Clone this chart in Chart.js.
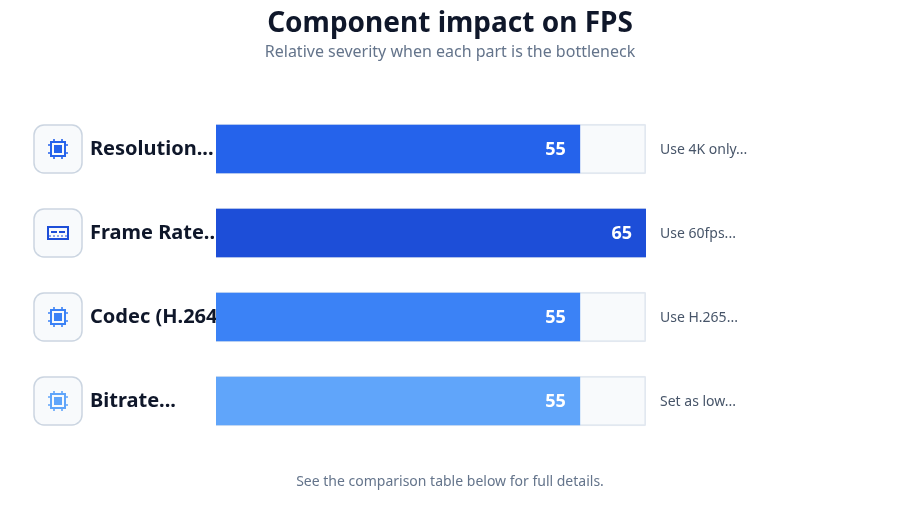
<!DOCTYPE html>
<html>
<head>
<meta charset="utf-8">
<style>
  html, body { margin: 0; padding: 0; background: #ffffff; }
  #wrap { position: relative; width: 900px; height: 506px; }
</style>
<script src="https://cdn.jsdelivr.net/npm/chart.js@4"></script>
</head>
<body>
<div id="wrap"><canvas id="impact" width="900" height="506"></canvas></div>
<script>
const chartTitle = 'Component impact on FPS';
const chartSubtitle = 'Relative severity when each part is the bottleneck';
const chartFootnote = 'See the comparison table below for full details.';
const categories = ['Resolution...', 'Frame Rate...', 'Codec (H.264', 'Bitrate...'];
const impactValues = [55, 65, 55, 55];
const trackValues = [65, 65, 65, 65];
const advice = ['Use 4K only...', 'Use 60fps...', 'Use H.265...', 'Set as low...'];
const barColors = ['#2563eb', '#1d4ed8', '#3b82f6', '#60a5fa'];
const iconKinds = ['chip', 'frame', 'chip', 'chip'];

const FONT = '"Noto Sans", sans-serif';

function roundedBox(ctx, x, y, w, h, r) {
  ctx.beginPath();
  ctx.roundRect(x, y, w, h, r);
}

function drawChip(ctx, cx, cy, color) {
  ctx.strokeStyle = color;
  ctx.fillStyle = color;
  ctx.lineWidth = 2;
  ctx.strokeRect(cx - 7, cy - 7, 14, 14);
  ctx.fillRect(cx - 4, cy - 4, 8, 8);
  ctx.lineWidth = 1.6;
  ctx.beginPath();
  [-4, 4].forEach(d => {
    ctx.moveTo(cx + d, cy - 10); ctx.lineTo(cx + d, cy - 7);
    ctx.moveTo(cx + d, cy + 7); ctx.lineTo(cx + d, cy + 10);
    ctx.moveTo(cx - 10, cy + d); ctx.lineTo(cx - 7, cy + d);
    ctx.moveTo(cx + 7, cy + d); ctx.lineTo(cx + 10, cy + d);
  });
  ctx.stroke();
}

function drawFrame(ctx, cx, cy, color) {
  ctx.strokeStyle = color;
  ctx.fillStyle = color;
  ctx.lineWidth = 2;
  ctx.strokeRect(cx - 10, cy - 6, 20, 12);
  ctx.fillRect(cx - 7, cy - 2, 6, 2);
  ctx.fillRect(cx + 1, cy - 2, 6, 2);
  ctx.lineWidth = 1;
  ctx.setLineDash([2, 2]);
  ctx.beginPath();
  ctx.moveTo(cx - 9, cy + 3);
  ctx.lineTo(cx + 9, cy + 3);
  ctx.stroke();
  ctx.setLineDash([]);
}

// Headline, row badges and category names sit behind the bars.
const backdrop = {
  id: 'backdrop',
  beforeDatasetsDraw(chart) {
    const { ctx, scales: { y } } = chart;
    ctx.save();
    ctx.textBaseline = 'middle';
    ctx.textAlign = 'center';
    ctx.fillStyle = '#0f172a';
    ctx.font = 'bold 28px ' + FONT;
    ctx.fillText(chartTitle, 450, 24);
    ctx.fillStyle = '#64748b';
    ctx.font = '16px ' + FONT;
    ctx.fillText(chartSubtitle, 450, 52);
    ctx.font = '14px ' + FONT;
    ctx.fillText(chartFootnote, 450, 482);

    categories.forEach((name, i) => {
      const cy = y.getPixelForValue(i);
      roundedBox(ctx, 34, cy - 24, 48, 48, 10);
      ctx.fillStyle = '#f8fafc';
      ctx.fill();
      ctx.strokeStyle = '#cbd5e1';
      ctx.lineWidth = 1.5;
      ctx.stroke();
      if (iconKinds[i] === 'chip') drawChip(ctx, 58, cy, barColors[i]);
      else drawFrame(ctx, 58, cy, barColors[i]);
      ctx.textAlign = 'left';
      ctx.fillStyle = '#0f172a';
      ctx.font = 'bold 20px ' + FONT;
      ctx.fillText(name, 90, cy);
      ctx.textAlign = 'center';
    });
    ctx.restore();
  }
};

// Value inside each bar and the advice note to the right of it.
const rowText = {
  id: 'rowText',
  afterDatasetsDraw(chart) {
    const { ctx, scales: { x, y } } = chart;
    ctx.save();
    ctx.textBaseline = 'middle';
    categories.forEach((_, i) => {
      const cy = y.getPixelForValue(i);
      ctx.textAlign = 'right';
      ctx.fillStyle = '#ffffff';
      ctx.font = 'bold 18px ' + FONT;
      ctx.fillText(String(impactValues[i]), x.getPixelForValue(impactValues[i]) - 14, cy + 1);
      ctx.textAlign = 'left';
      ctx.fillStyle = '#475569';
      ctx.font = '14px ' + FONT;
      ctx.fillText(advice[i], x.getPixelForValue(trackValues[i]) + 14, cy + 1);
    });
    ctx.restore();
  }
};

new Chart(document.getElementById('impact'), {
  type: 'bar',
  data: {
    labels: categories,
    datasets: [
      {
        label: 'Impact',
        data: impactValues,
        backgroundColor: barColors,
        borderWidth: 0,
        barThickness: 48,
        grouped: false,
        order: 1
      },
      {
        label: 'Scale',
        data: trackValues,
        backgroundColor: '#f8fafc',
        borderColor: '#e2e8f0',
        borderWidth: 2,
        borderRadius: 2,
        barThickness: 50,
        grouped: false,
        order: 2
      }
    ]
  },
  options: {
    indexAxis: 'y',
    responsive: false,
    animation: false,
    layout: { padding: { left: 216, right: 254, top: 107, bottom: 63 } },
    plugins: { legend: { display: false }, title: { display: false }, tooltip: { enabled: false } },
    scales: {
      x: { display: false, min: 0, max: 65 },
      y: { display: false }
    }
  },
  plugins: [backdrop, rowText]
});
</script>
</body>
</html>
